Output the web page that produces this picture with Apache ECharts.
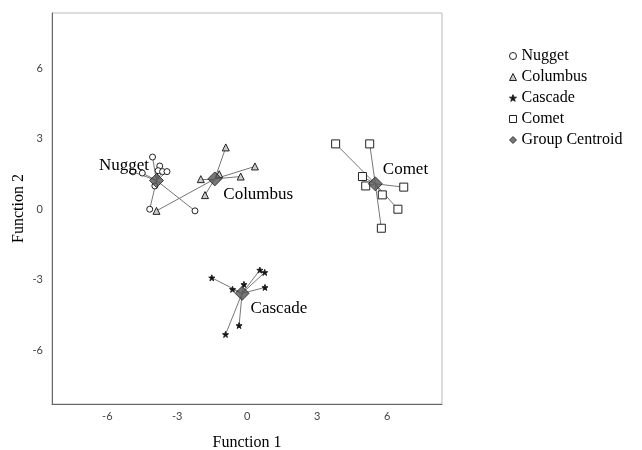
<!DOCTYPE html>
<html>
<head>
<meta charset="utf-8">
<script src="https://cdn.jsdelivr.net/npm/echarts@6/dist/echarts.min.js"></script>
<style>html,body{margin:0;padding:0;background:#fff}#c{width:642px;height:450px}</style>
</head>
<body>
<div id="c"></div>
<script>
// Data
var groups = ['Nugget', 'Columbus', 'Cascade', 'Comet'];
var centroidLabel = 'Group Centroid';
var xTicks = [-6, -3, 0, 3, 6];
var yTicks = [-6, -3, 0, 3, 6];

var nuggetPts = [[-4.06, 2.23], [-3.75, 1.85], [-3.82, 1.65], [-3.63, 1.61], [-3.44, 1.61], [-3.96, 1.00], [-4.18, 0.01], [-2.24, -0.06], [-4.9, 1.6], [-4.5, 1.55]];
var columbusPts = [[-0.92, 2.64], [0.33, 1.83], [-0.28, 1.40], [-1.99, 1.29], [-1.81, 0.61], [-3.89, -0.06], [-1.2, 1.5]];
var cascadePts = [[-1.52, -2.91], [-0.63, -3.40], [-0.14, -3.19], [0.54, -2.58], [0.75, -2.68], [0.76, -3.32], [-0.35, -4.94], [-0.93, -5.32]];
var cometPts = [[3.79, 2.79], [5.25, 2.79], [4.94, 1.40], [5.08, 1.00], [6.71, 0.95], [5.79, 0.62], [6.46, 0.01], [5.75, -0.80]];
var centroids = [[-3.89, 1.23], [-1.39, 1.30], [-0.22, -3.57], [5.49, 1.09]];

var groupPts = [nuggetPts, columbusPts, cascadePts, cometPts];
var starPath = 'path://M0,-10 L2.35,-3.24 L9.51,-3.09 L3.8,1.24 L5.88,8.09 L0,4 L-5.88,8.09 L-3.8,1.24 L-9.51,-3.09 L-2.35,-3.24 Z';
var symbols = ['circle', 'triangle', starPath, 'rect'];
var sizes = [6, 7, 6, 8];
var fills = ['#fff', '#ccc', '#111', '#fff'];
var labelOffsets = [[5, -15], [-4, 16], [-4, 15], [-5, -14]];
var labelPos = ['left', 'right', 'right', 'right'];

var serif = '"Liberation Serif", "DejaVu Serif", serif';

var series = [];
groups.forEach(function (g, i) {
  var segs = groupPts[i].map(function (p) { return { coords: [p, centroids[i]] }; });
  series.push({
    type: 'lines', name: g + '-links', coordinateSystem: 'cartesian2d', silent: true,
    lineStyle: { color: '#777', width: 1, opacity: 1 }, data: segs, z: 1
  });
});
groups.forEach(function (g, i) {
  series.push({
    type: 'scatter', name: g, data: groupPts[i], symbol: symbols[i], symbolSize: sizes[i],
    itemStyle: { color: fills[i], borderColor: '#222', borderWidth: 1, opacity: 1 }, z: 3
  });
});
series.push({
  type: 'scatter', name: centroidLabel, symbol: 'diamond', symbolSize: 14, z: 5,
  itemStyle: { color: '#555', borderColor: '#222', borderWidth: 1 },
  label: { show: false, color: '#000', fontFamily: serif, fontSize: 17, textBorderWidth: 0 },
  data: centroids.map(function (c, i) {
    return {
      value: c,
      label: {
        show: true, formatter: groups[i], position: labelPos[i], offset: labelOffsets[i],
        fontFamily: serif, fontSize: 17, color: '#000', opacity: 1, textBorderWidth: 0
      }
    };
  })
});

var chart = echarts.init(document.getElementById('c'), null, { renderer: 'canvas' });
chart.setOption({
  animation: false,
  backgroundColor: '#fff',
  grid: { left: 52, right: 200, top: 13, bottom: 46, outerBoundsMode: 'none', containLabel: false, show: true, borderColor: '#bbb', borderWidth: 1, backgroundColor: 'transparent' },
  xAxis: {
    type: 'value', min: -8.37, max: 8.35,
    name: 'Function 1', nameLocation: 'middle', nameGap: 31, nameMoveOverlap: false,
    nameTextStyle: { fontFamily: serif, fontSize: 16, color: '#000' },
    axisLine: { show: true, onZero: false, lineStyle: { color: '#666' } },
    axisTick: { show: false }, splitLine: { show: false },
    axisLabel: { customValues: xTicks, color: '#444', fontSize: 11, fontFamily: 'Lato, "DejaVu Sans", sans-serif', margin: 7 }
  },
  yAxis: {
    type: 'value', min: -8.28, max: 8.36,
    name: 'Function 2', nameLocation: 'middle', nameGap: 25, nameMoveOverlap: false,
    nameTextStyle: { fontFamily: serif, fontSize: 16, color: '#000' },
    axisLine: { show: true, onZero: false, lineStyle: { color: '#666' } },
    axisTick: { show: false }, splitLine: { show: false },
    axisLabel: { customValues: yTicks, color: '#444', fontSize: 11, fontFamily: 'Lato, "DejaVu Sans", sans-serif', margin: 9 }
  },
  legend: {
    orient: 'vertical', left: 504, top: 43, itemWidth: 7, itemHeight: 7, itemGap: 5,
    data: groups.concat([centroidLabel]),
    itemStyle: { borderWidth: 1 },
    textStyle: { fontFamily: serif, fontSize: 16, color: '#000', lineHeight: 15 }
  },
  series: series
});
</script>
</body>
</html>
